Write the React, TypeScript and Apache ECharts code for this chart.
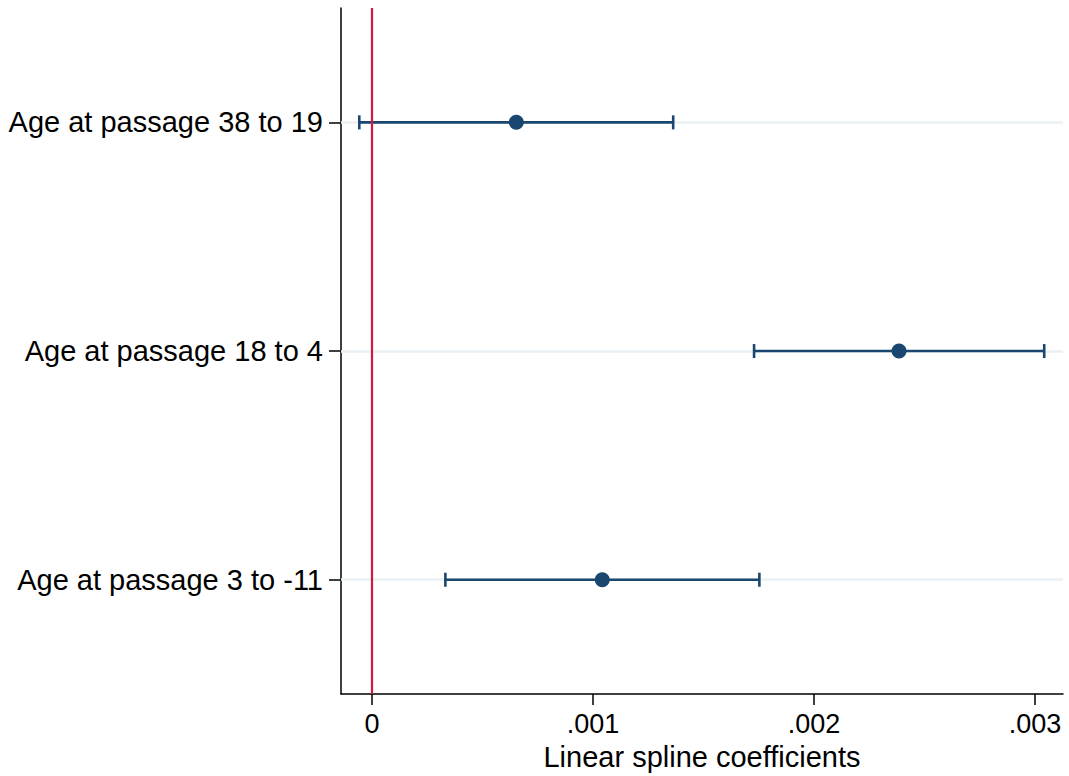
import React, { useEffect, useRef } from "react";
import * as echarts from "echarts";

const categories = ["Age at passage 3 to -11", "Age at passage 18 to 4", "Age at passage 38 to 19"];
const estimates = [0.001042, 0.002385, 0.000653];
const lowerCI = [0.000332, 0.001729, -0.0000575];
const upperCI = [0.001753, 0.003042, 0.001363];
const xTicks = [0, 0.001, 0.002, 0.003];

const FONT = "'Liberation Sans', Arial, Helvetica, sans-serif";
const NAVY = "#1a476f";

export default function App() {
  const ref = useRef<HTMLDivElement>(null);
  useEffect(() => {
    if (!ref.current) return;
    const chart = echarts.init(ref.current, undefined, { renderer: "svg" });
    const fmt = (v: number) => {
      if (Math.abs(v) < 1e-12) return "0";
      return String(Number(v.toFixed(4))).replace(/^0\./, ".");
    };
    chart.setOption({
      animation: false,
      backgroundColor: "#ffffff",
      grid: { left: 341, right: 6, top: 8, bottom: 81, containLabel: false },
      xAxis: {
        type: "value",
        min: -0.0001403,
        max: 0.003127,
        name: "Linear spline coefficients",
        nameLocation: "middle",
        nameGap: 46,
        nameTextStyle: { fontFamily: FONT, fontSize: 29, color: "#000" },
        axisLine: { show: true, onZero: false, lineStyle: { color: "#000", width: 1.5 } },
        axisTick: { show: true, length: 11, customValues: xTicks, lineStyle: { color: "#000", width: 1.5 } },
        axisLabel: {
          customValues: xTicks,
          formatter: fmt,
          fontFamily: FONT,
          fontSize: 27,
          color: "#000",
          margin: 16,
        },
        splitLine: { show: false },
      },
      yAxis: {
        type: "category",
        data: categories,
        boundaryGap: true,
        axisLine: { show: true, onZero: false, lineStyle: { color: "#000", width: 1.5 } },
        axisTick: { show: true, alignWithLabel: true, length: 12, lineStyle: { color: "#000", width: 1.5 } },
        axisLabel: { fontFamily: FONT, fontSize: 29, color: "#000", margin: 18 },
        splitLine: { show: false },
      },
      series: [
        {
          type: "custom",
          name: "ci",
          z: 3,
          data: categories.map((_, i) => [i, lowerCI[i], upperCI[i]]),
          renderItem: (params: any, api: any) => {
            const cat = api.value(0);
            const lo = api.coord([api.value(1), cat]);
            const hi = api.coord([api.value(2), cat]);
            const cap = 7;
            const style = { stroke: NAVY, lineWidth: 2.6 };
            return {
              type: "group",
              children: [
                { type: "line", shape: { x1: lo[0], y1: lo[1], x2: hi[0], y2: hi[1] }, style },
                { type: "line", shape: { x1: lo[0], y1: lo[1] - cap, x2: lo[0], y2: lo[1] + cap }, style },
                { type: "line", shape: { x1: hi[0], y1: hi[1] - cap, x2: hi[0], y2: hi[1] + cap }, style },
              ],
            };
          },
          encode: { x: [1, 2], y: 0 },
          markLine: {
            silent: true,
            symbol: "none",
            z: 1,
            label: { show: false },
            lineStyle: { color: "#eaf0f4", width: 2.5, type: "solid" },
            data: categories.map((c) => ({ yAxis: c })),
          },
        },
        {
          type: "scatter",
          name: "est",
          z: 5,
          symbol: "circle",
          symbolSize: 15,
          itemStyle: { color: NAVY, opacity: 1 },
          data: categories.map((c, i) => [estimates[i], c]),
          markLine: {
            silent: true,
            symbol: "none",
            label: { show: false },
            lineStyle: { color: "#d4173f", width: 2.2, type: "solid" },
            data: [{ xAxis: 0 }],
          },
        },
      ],
    });
    return () => chart.dispose();
  }, []);
  return <div ref={ref} style={{ width: 1069, height: 776, position: "absolute", left: 0, top: 0 }} />;
}
